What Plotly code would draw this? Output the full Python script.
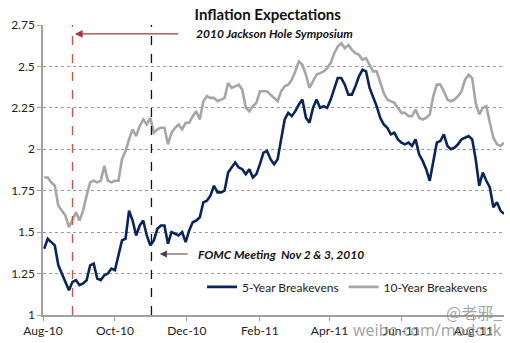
import pandas as pd
import plotly.graph_objects as go

# sample dates (every 3 calendar days)
dates = pd.date_range("2010-08-02", periods=131, freq="3D")

five_year = [
    1.40, 1.46, 1.44, 1.42, 1.30, 1.25, 1.21, 1.15, 1.20, 1.21,
    1.18, 1.19, 1.21, 1.30, 1.31, 1.22, 1.21, 1.24, 1.25, 1.28,
    1.27, 1.36, 1.45, 1.46, 1.63, 1.57, 1.48, 1.54, 1.57, 1.48,
    1.42, 1.45, 1.52, 1.54, 1.54, 1.43, 1.50, 1.49, 1.48, 1.50,
    1.44, 1.51, 1.56, 1.57, 1.59, 1.68, 1.69, 1.72, 1.78, 1.74,
    1.74, 1.75, 1.86, 1.89, 1.92, 1.89, 1.88, 1.85, 1.88, 1.83,
    1.85, 1.91, 1.98, 1.99, 1.94, 1.91, 1.94, 2.06, 2.18, 2.22,
    2.20, 2.23, 2.27, 2.30, 2.19, 2.16, 2.25, 2.30, 2.25, 2.26,
    2.25, 2.30, 2.37, 2.43, 2.43, 2.39, 2.33, 2.33, 2.38, 2.44,
    2.48, 2.47, 2.37, 2.32, 2.26, 2.19, 2.15, 2.13, 2.09, 2.10,
    2.06, 2.04, 2.03, 2.04, 2.02, 2.06, 1.97, 1.93, 1.88, 1.81,
    1.92, 2.04, 2.05, 2.09, 2.02, 2.00, 2.01, 2.03, 2.06, 2.07,
    2.08, 2.06, 1.94, 1.78, 1.86, 1.81, 1.77, 1.65, 1.68, 1.63,
    1.61,
]

ten_year = [
    1.83, 1.83, 1.80, 1.78, 1.66, 1.63, 1.60, 1.53, 1.58, 1.62,
    1.57, 1.63, 1.72, 1.80, 1.81, 1.80, 1.81, 1.90, 1.81, 1.80,
    1.81, 1.81, 1.94, 1.99, 2.06, 2.12, 2.08, 2.14, 2.18, 2.15,
    2.19, 2.10, 2.12, 2.13, 2.13, 2.03, 2.10, 2.13, 2.15, 2.12,
    2.16, 2.16, 2.20, 2.23, 2.18, 2.29, 2.32, 2.31, 2.31, 2.29,
    2.30, 2.31, 2.40, 2.37, 2.38, 2.39, 2.36, 2.25, 2.23, 2.26,
    2.28, 2.35, 2.35, 2.35, 2.33, 2.31, 2.29, 2.35, 2.38, 2.39,
    2.42, 2.47, 2.53, 2.51, 2.45, 2.37, 2.41, 2.45, 2.46, 2.47,
    2.49, 2.52, 2.58, 2.62, 2.64, 2.61, 2.63, 2.60, 2.58, 2.57,
    2.54, 2.55, 2.51, 2.47, 2.47, 2.40, 2.34, 2.30, 2.29, 2.28,
    2.25, 2.22, 2.22, 2.20, 2.20, 2.24, 2.19, 2.18, 2.19, 2.21,
    2.32, 2.39, 2.39, 2.35, 2.30, 2.29, 2.30, 2.32, 2.35, 2.42,
    2.45, 2.43, 2.28, 2.21, 2.25, 2.26, 2.16, 2.07, 2.03, 2.02,
    2.04,
]

y_ticks = [1, 1.25, 1.5, 1.75, 2, 2.25, 2.5, 2.75]
y_tick_labels = ["1", "1.25", "1.5", "1.75", "2", "2.25", "2.5", "2.75"]

jackson_hole_date = "2010-08-26"
fomc_date = "2010-11-01"

FONT = "Lato"
NAVY = "#0a2558"
GRAY = "#a6a6a6"

fig = go.Figure()
fig.add_trace(go.Scatter(x=dates, y=five_year, mode="lines", name="5-Year Breakevens",
                         line=dict(color=NAVY, width=2.6)))
fig.add_trace(go.Scatter(x=dates, y=ten_year, mode="lines", name="10-Year Breakevens",
                         line=dict(color=GRAY, width=2.6)))

fig.add_shape(type="line", xref="x", yref="paper", x0=jackson_hole_date, x1=jackson_hole_date,
              y0=0, y1=1, line=dict(color="#d0504d", width=1.3, dash="dash"))
fig.add_shape(type="line", xref="x", yref="paper", x0=fomc_date, x1=fomc_date,
              y0=0, y1=1, line=dict(color="#111111", width=1.3, dash="dash"))

# arrows
fig.add_annotation(x="2010-08-28", y=2.696, ax="2010-11-25", ay=2.696, xref="x", yref="y",
                   axref="x", ayref="y", text="", showarrow=True, arrowhead=2,
                   arrowsize=1.2, arrowwidth=1.3, arrowcolor="#a33a38")
fig.add_annotation(x="2010-12-07", y=2.696, xref="x", yref="y", xanchor="left", yanchor="middle",
                   text="<b><i>2010 Jackson Hole Symposium</i></b>", showarrow=False,
                   font=dict(family=FONT, size=12, color="#111111"))
fig.add_annotation(x="2010-11-08", y=1.368, ax="2010-12-03", ay=1.368, xref="x", yref="y",
                   axref="x", ayref="y", text="", showarrow=True, arrowhead=2,
                   arrowsize=1.2, arrowwidth=1.2, arrowcolor="#444444")
fig.add_annotation(x="2010-12-09", y=1.368, xref="x", yref="y", xanchor="left", yanchor="middle",
                   text="<b><i>FOMC Meeting  Nov 2 &amp; 3, 2010</i></b>", showarrow=False,
                   font=dict(family=FONT, size=12, color="#111111"))

# watermark
fig.add_annotation(x=1.0, y=0.01, xref="paper", yref="paper", xanchor="right", yanchor="middle",
                   text="@老邪_", showarrow=False,
                   font=dict(family="Noto Sans CJK SC", size=16, color="rgba(140,140,140,0.8)"))
fig.add_annotation(x=1.0, y=-0.05, xref="paper", yref="paper", xanchor="right", yanchor="middle",
                   text="weibo.com/modcuk", showarrow=False,
                   font=dict(family="Noto Sans", size=16, color="rgba(140,140,140,0.8)"))

fig.update_layout(
    width=510, height=343,
    margin=dict(l=43, r=6, t=25, b=28),
    paper_bgcolor="white", plot_bgcolor="white",
    font=dict(family=FONT, size=11, color="#222222"),
    title=dict(text="<b>Inflation Expectations</b>", x=0.525, xanchor="center", y=0.958, yanchor="middle",
               font=dict(family=FONT, size=15, color="#111111")),
    showlegend=True,
    legend=dict(orientation="h", x=0.345, y=0.097, xanchor="left", yanchor="middle",
                bgcolor="rgba(0,0,0,0)", font=dict(family=FONT, size=12, color="#222222"),
                itemwidth=30, tracegroupgap=0),
    xaxis=dict(range=["2010-08-01", "2011-08-27"], tick0="2010-08-01", dtick="M2",
               tickformat="%b-%y", showgrid=False, showline=True, linecolor="#a0a0a0",
               linewidth=1.5, ticks="outside", ticklen=4, tickcolor="#a0a0a0",
               tickfont=dict(family=FONT, size=12, color="#222222"), zeroline=False),
    yaxis=dict(range=[1, 2.75], tickvals=y_ticks, ticktext=y_tick_labels, showgrid=True,
               gridcolor="#9a9a9a", griddash="dot", gridwidth=1, showline=True,
               linecolor="#a0a0a0", linewidth=1.5, ticks="outside", ticklen=4,
               tickcolor="#a0a0a0", tickfont=dict(family=FONT, size=12, color="#222222"),
               zeroline=False),
)

fig.write_html("out.html")
